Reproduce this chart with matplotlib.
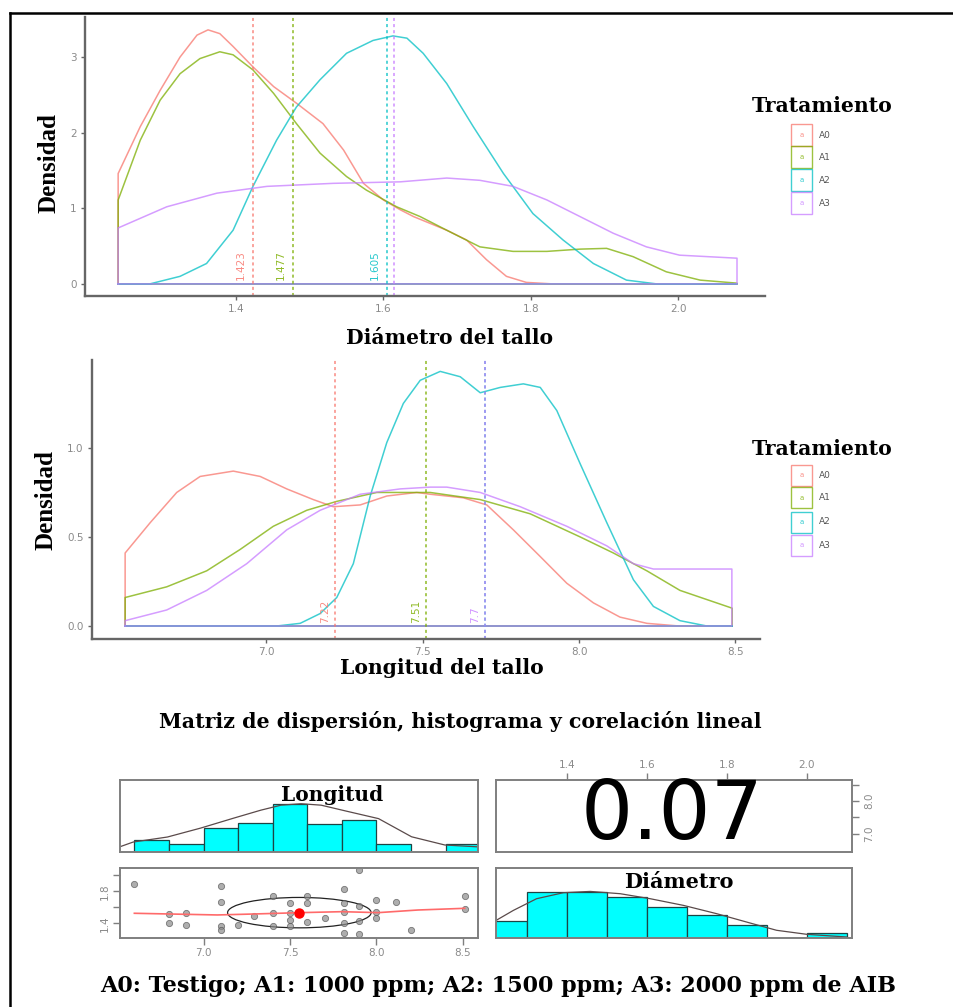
import matplotlib
matplotlib.use("Agg")
import matplotlib.pyplot as plt
from matplotlib.patches import Rectangle, Ellipse
from matplotlib.lines import Line2D

# ------------------------------------------------------------------ data
treatments = ["A0", "A1", "A2", "A3"]
colors = ["#F8766D", "#7CAE00", "#00BFC4", "#C77CFF"]

# Density curves, stem diameter
diam_A0_x = [1.240, 1.270, 1.297, 1.324, 1.347, 1.362, 1.378, 1.396, 1.423, 1.451, 1.482, 1.518,
             1.546, 1.573, 1.600, 1.623, 1.641, 1.686, 1.713, 1.740, 1.767, 1.794, 1.830, 2.080]
diam_A0_y = [1.46, 2.08, 2.56, 3.00, 3.29, 3.36, 3.31, 3.14, 2.87, 2.61, 2.39, 2.12,
             1.77, 1.33, 1.11, 0.98, 0.89, 0.71, 0.58, 0.32, 0.10, 0.02, 0.00, 0.00]
diam_A1_x = [1.240, 1.270, 1.297, 1.324, 1.351, 1.378, 1.396, 1.423, 1.451, 1.482, 1.514, 1.550, 1.577,
             1.618, 1.650, 1.686, 1.731, 1.776, 1.822, 1.867, 1.903, 1.939, 1.984, 2.030, 2.080]
diam_A1_y = [1.11, 1.90, 2.43, 2.78, 2.98, 3.07, 3.03, 2.83, 2.52, 2.12, 1.73, 1.42, 1.24,
             1.02, 0.89, 0.71, 0.49, 0.43, 0.43, 0.46, 0.47, 0.36, 0.16, 0.05, 0.01]
diam_A2_x = [1.240, 1.283, 1.324, 1.360, 1.396, 1.423, 1.455, 1.482, 1.514, 1.550, 1.586, 1.613,
             1.632, 1.654, 1.686, 1.722, 1.763, 1.803, 1.844, 1.885, 1.930, 1.971, 2.080]
diam_A2_y = [0.00, 0.00, 0.10, 0.27, 0.71, 1.29, 1.90, 2.34, 2.70, 3.05, 3.22, 3.28,
             3.25, 3.05, 2.65, 2.08, 1.46, 0.93, 0.58, 0.27, 0.05, 0.00, 0.00]
diam_A3_x = [1.240, 1.306, 1.374, 1.442, 1.532, 1.623, 1.686, 1.731, 1.776, 1.822, 1.867, 1.912,
             1.957, 2.002, 2.080]
diam_A3_y = [0.74, 1.02, 1.20, 1.29, 1.33, 1.35, 1.40, 1.37, 1.29, 1.11, 0.89, 0.67,
             0.49, 0.38, 0.34]
diam_means = [1.423, 1.477, 1.605, 1.615]
diam_mean_labels = ["1.423", "1.477", "1.605", ""]

# Density curves, stem length
long_A0_x = [6.548, 6.628, 6.713, 6.788, 6.894, 6.980, 7.065, 7.150, 7.214, 7.300, 7.385, 7.481,
             7.524, 7.630, 7.705, 7.790, 7.876, 7.961, 8.046, 8.131, 8.217, 8.320, 8.490]
long_A0_y = [0.41, 0.58, 0.75, 0.84, 0.87, 0.84, 0.77, 0.71, 0.67, 0.68, 0.73, 0.75,
             0.74, 0.72, 0.68, 0.54, 0.39, 0.24, 0.13, 0.05, 0.015, 0.00, 0.00]
long_A1_x = [6.548, 6.681, 6.809, 6.916, 7.022, 7.129, 7.225, 7.353, 7.481, 7.524, 7.684, 7.844,
             8.004, 8.110, 8.217, 8.323, 8.490]
long_A1_y = [0.16, 0.22, 0.31, 0.43, 0.56, 0.65, 0.70, 0.75, 0.75, 0.75, 0.71, 0.63,
             0.50, 0.41, 0.31, 0.20, 0.10]
long_A2_x = [6.548, 7.033, 7.108, 7.172, 7.225, 7.278, 7.332, 7.385, 7.438, 7.492, 7.556, 7.620,
             7.684, 7.748, 7.822, 7.876, 7.929, 8.004, 8.089, 8.174, 8.238, 8.323, 8.409, 8.490]
long_A2_y = [0.00, 0.00, 0.015, 0.07, 0.16, 0.35, 0.73, 1.03, 1.25, 1.38, 1.43, 1.40,
             1.31, 1.34, 1.36, 1.34, 1.21, 0.91, 0.58, 0.26, 0.11, 0.03, 0.00, 0.00]
long_A3_x = [6.548, 6.681, 6.809, 6.937, 7.065, 7.172, 7.300, 7.428, 7.524, 7.577, 7.684, 7.812,
             7.961, 8.089, 8.174, 8.238, 8.489]
long_A3_y = [0.03, 0.09, 0.20, 0.35, 0.54, 0.65, 0.74, 0.77, 0.78, 0.78, 0.75, 0.67,
             0.56, 0.45, 0.35, 0.32, 0.32]
long_means = [7.22, 7.51, 7.7, 7.7]
long_mean_labels = ["7.22", "7.51", "", "7.7"]

# Pairs panels
long_breaks = [6.6, 6.8, 7.0, 7.2, 7.4, 7.6, 7.8, 8.0, 8.2, 8.4, 8.6]
long_counts = [1.5, 1.0, 3.0, 3.6, 6.0, 3.5, 4.0, 1.0, 0.0, 1.0]
long_dens_x = [6.517, 6.593, 6.791, 6.983, 7.174, 7.331, 7.448, 7.564, 7.680, 7.826, 8.012, 8.203, 8.395, 8.599]
long_dens_y = [0.62, 1.21, 1.84, 2.96, 4.21, 5.21, 5.84, 6.02, 5.84, 5.09, 4.15, 1.87, 0.84, 0.59]

diam_breaks = [1.2, 1.3, 1.4, 1.5, 1.6, 1.7, 1.8, 1.9, 2.0, 2.1]
diam_counts = [4.0, 11.0, 11.0, 9.8, 7.4, 5.5, 3.1, 0.0, 1.0]
diam_dens_x = [1.220, 1.266, 1.324, 1.391, 1.458, 1.533, 1.608, 1.691, 1.774, 1.858, 1.924, 1.999, 2.099]
diam_dens_y = [3.97, 6.53, 9.33, 10.77, 11.08, 10.53, 9.33, 7.73, 5.74, 3.49, 1.75, 0.79, 0.14]

scatter_long = [6.60, 6.80, 6.80, 6.90, 6.90, 7.10, 7.10, 7.10, 7.10, 7.20, 7.29, 7.40, 7.40, 7.40,
                7.50, 7.50, 7.50, 7.50, 7.60, 7.60, 7.60, 7.70, 7.81, 7.81, 7.81, 7.81, 7.81,
                7.90, 7.90, 7.90, 7.90, 8.00, 8.00, 8.00, 8.11, 8.20, 8.51, 8.51]
scatter_diam = [1.89, 1.51, 1.40, 1.525, 1.38, 1.86, 1.67, 1.36, 1.32, 1.38, 1.495, 1.745, 1.525, 1.36,
                1.65, 1.525, 1.44, 1.36, 1.745, 1.65, 1.41, 1.46, 1.825, 1.65, 1.545, 1.40, 1.275,
                2.07, 1.61, 1.43, 1.27, 1.69, 1.545, 1.46, 1.67, 1.32, 1.745, 1.58]
smooth_x = [6.60, 7.08, 7.29, 7.56, 7.80, 8.01, 8.24, 8.51]
smooth_y = [1.525, 1.504, 1.516, 1.533, 1.545, 1.533, 1.566, 1.587]
mean_long, mean_diam = 7.554, 1.533
ellipse_width, ellipse_height = 0.83, 0.38
correlation = "0.07"

# ------------------------------------------------------------------ figure
W, H = 954, 1007
fig = plt.figure(figsize=(W / 100, H / 100), dpi=100)
fig.patch.set_facecolor("white")


def fx(px):
    return px / W


def fy(py):
    return 1 - py / H


def add_ax(x0, y0, x1, y1):
    return fig.add_axes([x0 / W, 1 - y1 / H, (x1 - x0) / W, (y1 - y0) / H])


SERIF = "DejaVu Serif"
TICKC = "#8a8a8a"
AXC = "#666666"


def density_panel(ax, curves, means, labels, xlim, ylim, xticks, xtl, yticks, ytl, lab_dx):
    for (xs, ys), c in zip(curves, colors):
        px = [xs[0]] + list(xs) + [xs[-1], xs[0]]
        py = [0] + list(ys) + [0, 0]
        ax.plot(px, py, color=c, lw=1.1, alpha=0.75, solid_joinstyle="round")
    for m, lab, c in zip(means, labels, colors):
        ax.axvline(m, color=c, lw=1.1, ls=(0, (2, 2)), alpha=0.85)
        if lab:
            ax.annotate(lab, xy=(m, 0), xytext=(lab_dx, 2.5), textcoords="offset points",
                        rotation=90, ha="center", va="bottom", fontsize=7.5, color=c, alpha=0.85)
    ax.set_xlim(*xlim)
    ax.set_ylim(*ylim)
    ax.set_xticks(xticks)
    ax.set_xticklabels(xtl)
    ax.set_yticks(yticks)
    ax.set_yticklabels(ytl)
    for s in ["top", "right"]:
        ax.spines[s].set_visible(False)
    for s in ["left", "bottom"]:
        ax.spines[s].set_color(AXC)
        ax.spines[s].set_linewidth(1.7)
    ax.tick_params(direction="out", length=3, width=1, color=AXC, labelsize=7.5,
                   labelcolor=TICKC, pad=3)
    ax.set_facecolor("none")


# Panel 1: diameter
ax1 = add_ax(85, 17, 765, 296)
density_panel(ax1,
              [(diam_A0_x, diam_A0_y), (diam_A1_x, diam_A1_y), (diam_A2_x, diam_A2_y), (diam_A3_x, diam_A3_y)],
              diam_means, diam_mean_labels, (1.195, 2.118), (-0.16, 3.53),
              [1.4, 1.6, 1.8, 2.0], ["1.4", "1.6", "1.8", "2.0"], [0, 1, 2, 3], ["0", "1", "2", "3"], -8.5)

# Panel 2: length
ax2 = add_ax(92, 360, 760, 639)
density_panel(ax2,
              [(long_A0_x, long_A0_y), (long_A1_x, long_A1_y), (long_A2_x, long_A2_y), (long_A3_x, long_A3_y)],
              long_means, long_mean_labels, (6.442, 8.579), (-0.073, 1.494),
              [7.0, 7.5, 8.0, 8.5], ["7.0", "7.5", "8.0", "8.5"], [0.0, 0.5, 1.0], ["0.0", "0.5", "1.0"], -7.0)

# axis titles
fig.text(fx(450), fy(338), "Diámetro del tallo", family=SERIF, weight="bold", fontsize=14.6,
         ha="center", va="center")
fig.text(fx(442), fy(668), "Longitud del tallo", family=SERIF, weight="bold", fontsize=14.6,
         ha="center", va="center")
fig.text(fx(49), fy(163), "Densidad", family="Liberation Serif", weight="bold", fontsize=18,
         rotation=90, ha="center", va="center")
fig.text(fx(46), fy(500), "Densidad", family="Liberation Serif", weight="bold", fontsize=18,
         rotation=90, ha="center", va="center")


def legend(y_title, rows):
    fig.text(fx(752), fy(y_title), "Tratamiento", family=SERIF, weight="bold", fontsize=14.7,
             ha="left", va="center")
    for t, c, y in zip(treatments, colors, rows):
        fig.add_artist(Rectangle((fx(791), fy(y + 10.5)), 21 / W, 21 / H, transform=fig.transFigure,
                                 fill=False, edgecolor=c, lw=1.0, alpha=0.75))
        fig.text(fx(801.5), fy(y), "a", color=c, fontsize=5, ha="center", va="center", alpha=0.8)
        fig.text(fx(819), fy(y), t, color="#555555", fontsize=6.5, ha="left", va="center")


legend(106, [135, 157, 180, 203])
legend(449, [475, 498, 522, 545])

# ------------------------------------------------------------------ pairs panels
fig.text(fx(460), fy(722), "Matriz de dispersión, histograma y corelación lineal", family=SERIF,
         weight="bold", fontsize=14.8, ha="center", va="center")

BOXC = "#7f7f7f"


def box_style(ax):
    for s in ax.spines.values():
        s.set_color(BOXC)
        s.set_linewidth(1.4)
    ax.tick_params(direction="out", length=5, width=1, color=BOXC, labelsize=7.5,
                   labelcolor=TICKC, pad=2)


# Longitud histogram
axA = add_ax(120, 780, 478, 852)
axA.bar(long_breaks[:-1], long_counts, width=[b - a for a, b in zip(long_breaks[:-1], long_breaks[1:])],
        align="edge", color="#00FFFF", edgecolor="#1d4545", lw=0.9)
axA.plot(long_dens_x, long_dens_y, color="#5a4a4a", lw=0.9)
axA.set_xlim(6.517, 8.587)
axA.set_ylim(-0.04, 9.0)
axA.set_xticks([])
axA.set_yticks([])
box_style(axA)
fig.text(fx(332), fy(795), "Longitud", family=SERIF, weight="bold", fontsize=14.5, ha="center", va="center")

# Correlation
axB = add_ax(496, 780, 852, 852)
axB.set_xlim(1.2225, 2.1125)
axB.set_ylim(6.45, 8.64)
axB.xaxis.tick_top()
axB.set_xticks([1.4, 1.6, 1.8, 2.0])
axB.set_xticklabels(["1.4", "1.6", "1.8", "2.0"])
axB.yaxis.tick_right()
axB.set_yticks([7.0, 7.5, 8.0, 8.5])
axB.set_yticklabels(["7.0", "", "8.0", ""])
box_style(axB)
axB.tick_params(axis="y", labelrotation=90, pad=4)
for lab in axB.get_yticklabels():
    lab.set_va("center")
axB.text(0.495, 0.5, correlation, transform=axB.transAxes, fontsize=59, family="DejaVu Sans",
         ha="center", va="center", color="black")

# Scatter
axC = add_ax(120, 868, 478, 938)
axC.plot(scatter_long, scatter_diam, "o", ms=4.5, mfc="#8c8c8c", mec="#4f4f4f", mew=0.6, alpha=0.7)
axC.plot(smooth_x, smooth_y, color="#ff6a6a", lw=1.2)
axC.add_patch(Ellipse((mean_long, mean_diam), ellipse_width, ellipse_height, fill=False,
                      edgecolor="#222222", lw=0.9))
axC.plot([mean_long], [mean_diam], "o", ms=6.5, color="#ff0000")
axC.set_xlim(6.517, 8.587)
axC.set_ylim(1.216, 2.091)
axC.set_xticks([7.0, 7.5, 8.0, 8.5])
axC.set_xticklabels(["7.0", "7.5", "8.0", "8.5"])
axC.set_yticks([1.4, 1.6, 1.8, 2.0])
axC.set_yticklabels(["1.4", "", "1.8", ""])
box_style(axC)
axC.tick_params(axis="y", labelrotation=90)
for lab in axC.get_yticklabels():
    lab.set_va("center")

# Diametro histogram
axD = add_ax(496, 868, 852, 938)
axD.bar(diam_breaks[:-1], diam_counts, width=[b - a for a, b in zip(diam_breaks[:-1], diam_breaks[1:])],
        align="edge", color="#00FFFF", edgecolor="#1d4545", lw=0.9)
axD.plot(diam_dens_x, diam_dens_y, color="#5a4a4a", lw=0.9)
axD.set_xlim(1.2225, 2.1125)
axD.set_ylim(-0.1, 16.7)
axD.set_xticks([])
axD.set_yticks([])
box_style(axD)
fig.text(fx(679), fy(882), "Diámetro", family=SERIF, weight="bold", fontsize=15, ha="center", va="center")

# Caption
fig.text(fx(498), fy(986), "A0: Testigo; A1: 1000 ppm; A2: 1500 ppm; A3: 2000 ppm de AIB", family=SERIF,
         weight="bold", fontsize=16, ha="center", va="center")

# Outer frame (left and top edges visible)
fig.add_artist(Line2D([fx(10), fx(10)], [fy(13), 0], transform=fig.transFigure, color="black", lw=1.8))
fig.add_artist(Line2D([fx(10), 1], [fy(13), fy(13)], transform=fig.transFigure, color="black", lw=1.8))

fig.savefig("out.png", dpi=100, facecolor="white")
